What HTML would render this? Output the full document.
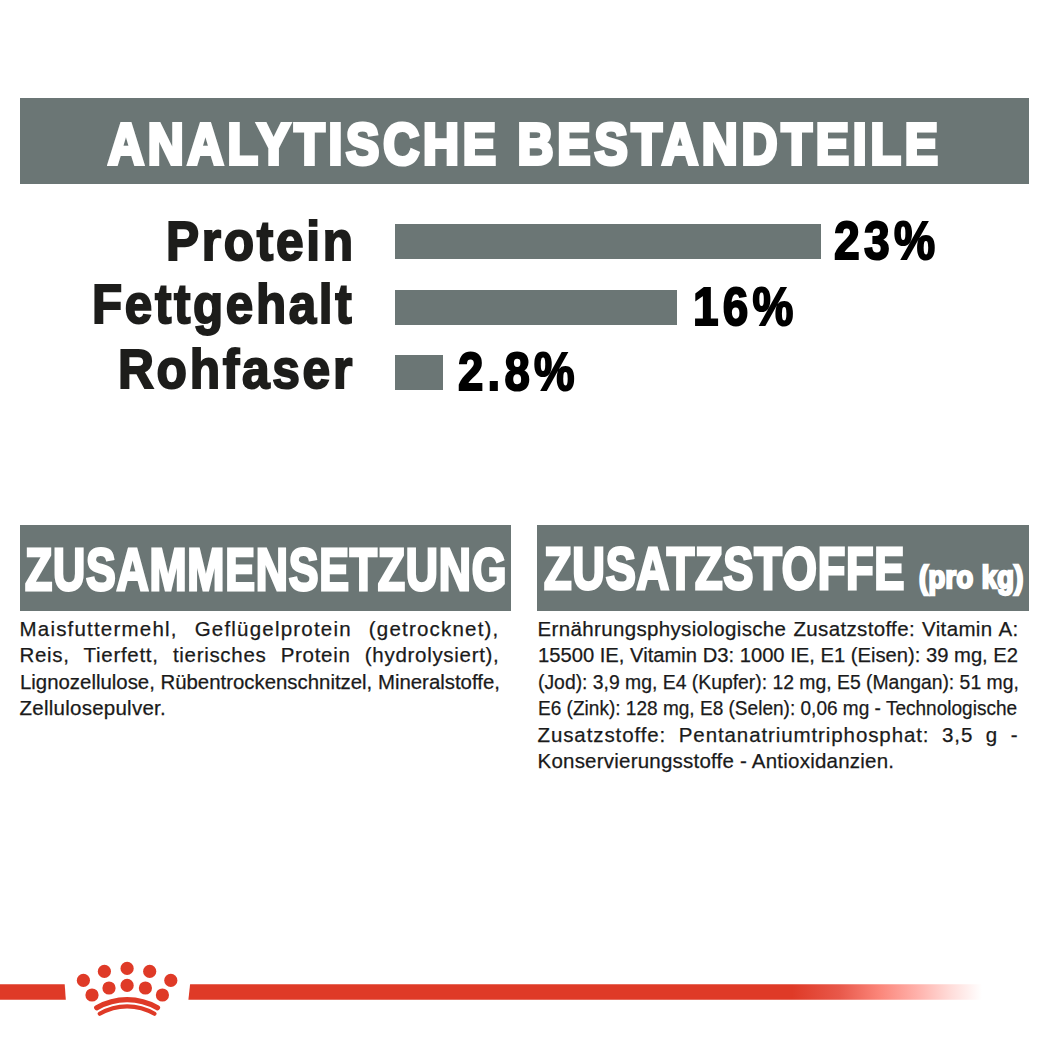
<!DOCTYPE html>
<html>
<head>
<meta charset="utf-8">
<style>
html,body{margin:0;padding:0;background:#fff;}
body{width:1049px;height:1049px;position:relative;overflow:hidden;font-family:"Liberation Sans",sans-serif;}
.abs{position:absolute;}
.bar{position:absolute;background:#6b7675;}
.t{position:absolute;white-space:nowrap;line-height:1;transform-origin:0 0;}
.hd{color:#fff;font-weight:bold;-webkit-text-stroke:4px #fff;}
.hd2{color:#fff;font-weight:bold;-webkit-text-stroke:3px #fff;letter-spacing:1px;}
.lbl{color:#1d1d1b;font-weight:bold;font-size:56px;letter-spacing:3px;-webkit-text-stroke:2px #1d1d1b;}
.pct{color:#000;font-weight:bold;font-size:54px;letter-spacing:5px;-webkit-text-stroke:2px #000;}
.ln{position:absolute;white-space:nowrap;font-size:20.5px;line-height:26px;color:#1a1a1a;-webkit-text-stroke:0.25px #1a1a1a;transform-origin:0 0;}
.j{text-align:justify;text-align-last:justify;}
</style>
</head>
<body>
<!-- header -->
<div class="bar" style="left:20px;top:98px;width:1009px;height:86px;"></div>
<div id="hd1" class="t hd" style="left:108.0339px;top:115px;font-size:58px;letter-spacing:4.5px;transform:scaleX(0.8581);">ANALYTISCHE BESTANDTEILE</div>

<!-- analytic rows -->
<div id="protein" class="t lbl" style="left:166.1207px;top:213px;transform:scaleX(0.8869);">Protein</div>
<div id="fett" class="t lbl" style="left:92.1416px;top:276px;transform:scaleX(0.8815);">Fettgehalt</div>
<div id="roh" class="t lbl" style="left:118.3393px;top:340.6px;transform:scaleX(0.8883);">Rohfaser</div>

<div class="bar" style="left:395px;top:224px;width:426px;height:35px;"></div>
<div class="bar" style="left:395px;top:290px;width:282px;height:35px;"></div>
<div class="bar" style="left:395px;top:355px;width:48px;height:35px;"></div>

<div id="p23" class="t pct" style="left:834.4233px;top:212.6px;transform:scaleX(0.8561);">23%</div>
<div id="p16" class="t pct" style="left:693.1973px;top:278.6px;transform:scaleX(0.8499);">16%</div>
<div id="p28" class="t pct" style="left:458.4322px;top:343.6px;transform:scaleX(0.8439);">2.8%</div>

<!-- section headers -->
<div class="bar" style="left:20px;top:525px;width:491px;height:86px;"></div>
<div id="zus" class="t hd2" style="left:25.4222px;top:540.2px;font-size:60px;transform:scaleX(0.7436);">ZUSAMMENSETZUNG</div>
<div class="bar" style="left:537px;top:525px;width:492px;height:86px;"></div>
<div id="zust" class="t hd2" style="left:544.1865px;top:539.2px;font-size:60px;transform:scaleX(0.7529);">ZUSATZSTOFFE</div>
<div id="prokg" class="t hd2" style="left:919.0243px;top:562.0px;font-size:31px;-webkit-text-stroke:2.5px #fff;letter-spacing:0.5px;transform:scaleX(0.8785);">(pro kg)</div>

<!-- left paragraph -->
<div class="ln j" style="left:19.5px;top:616px;width:480px;letter-spacing:1.2px;">Maisfuttermehl, Geflügelprotein (getrocknet),</div>
<div class="ln j" style="left:19.5px;top:642.4px;width:480px;letter-spacing:0.7px;">Reis, Tierfett, tierisches Protein (hydrolysiert),</div>
<div class="ln" style="left:19.5px;top:668.8px;transform:scaleX(0.994);">Lignozellulose, Rübentrockenschnitzel, Mineralstoffe,</div>
<div class="ln" style="left:19.5px;top:695.2px;letter-spacing:0.25px;">Zellulosepulver.</div>

<!-- right paragraph -->
<div class="ln j" style="left:537.5px;top:616px;width:481px;letter-spacing:0.35px;">Ernährungsphysiologische Zusatzstoffe: Vitamin A:</div>
<div class="ln" style="left:537.5px;top:642.4px;transform:scaleX(0.985);">15500 IE, Vitamin D3: 1000 IE, E1 (Eisen): 39 mg, E2</div>
<div class="ln" style="left:537.5px;top:668.8px;transform:scaleX(0.944);">(Jod): 3,9 mg, E4 (Kupfer): 12 mg, E5 (Mangan): 51 mg,</div>
<div class="ln" style="left:537.5px;top:695.2px;transform:scaleX(0.929);">E6 (Zink): 128 mg, E8 (Selen): 0,06 mg - Technologische</div>
<div class="ln j" style="left:537.5px;top:721.6px;width:481px;letter-spacing:0.9px;">Zusatzstoffe: Pentanatriumtriphosphat: 3,5 g -</div>
<div class="ln" style="left:537.5px;top:748px;letter-spacing:0.22px;">Konservierungsstoffe - Antioxidanzien.</div>

<!-- footer red line + crown -->
<svg class="abs" style="left:0;top:940px;" width="1049" height="90" viewBox="0 940 1049 90">
  <defs>
    <linearGradient id="fade" x1="188" y1="0" x2="982" y2="0" gradientUnits="userSpaceOnUse">
      <stop offset="0" stop-color="#df3a27"/>
      <stop offset="0.761" stop-color="#df3a27"/>
      <stop offset="0.82" stop-color="#e8584a"/>
      <stop offset="0.87" stop-color="#fb8579"/>
      <stop offset="0.92" stop-color="#ffb3ad"/>
      <stop offset="0.96" stop-color="#ffdcd9"/>
      <stop offset="1" stop-color="#ffffff"/>
    </linearGradient>
  </defs>
  <path d="M0 984.3 L64.7 984.3 L65.8 999.8 L0 999.8 Z" fill="#df3a27"/>
  <path d="M190.1 984.3 L982 984.3 L982 999.8 L188.4 999.8 Z" fill="url(#fade)"/>
  <g fill="#df3a27">
    <circle cx="83.4" cy="980.4" r="6.6"/>
    <circle cx="104.4" cy="971.4" r="6.6"/>
    <circle cx="127.1" cy="968.4" r="6.6"/>
    <circle cx="149.7" cy="971.4" r="6.6"/>
    <circle cx="170.8" cy="980.4" r="6.6"/>
    <circle cx="92" cy="995" r="6.6"/>
    <circle cx="109" cy="988" r="6.6"/>
    <circle cx="127.1" cy="985.4" r="6.6"/>
    <circle cx="145.4" cy="988" r="6.6"/>
    <circle cx="162.4" cy="995" r="6.6"/>
  </g>
  <g fill="none" stroke="#df3a27" stroke-linecap="round">
    <path d="M96.8 1007.75 A60.4 60.4 0 0 1 157.4 1007.75" stroke-width="5.4"/>
    <path d="M99.7 1013.8 A53.7 53.7 0 0 1 154.5 1013.8" stroke-width="4.2"/>
  </g>
</svg>
</body>
</html>
